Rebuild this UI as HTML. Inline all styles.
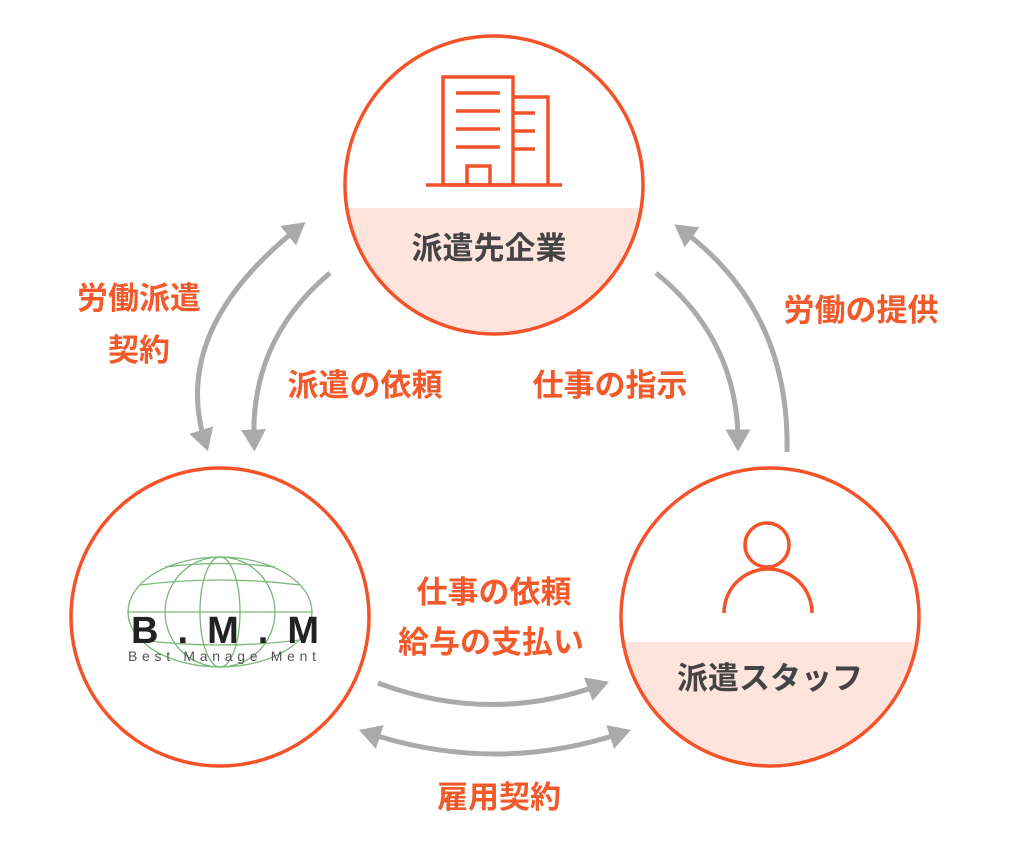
<!DOCTYPE html>
<html><head><meta charset="utf-8"><style>
body{margin:0;background:#fff;width:1024px;height:846px;overflow:hidden}
svg{display:block}
.l{font-family:"Liberation Sans","Noto Sans CJK JP",sans-serif;font-weight:bold;font-size:31px;fill:#f25a2b}
.d{font-family:"Liberation Sans","Noto Sans CJK JP",sans-serif;font-weight:bold;font-size:31px;fill:#444}
</style></head><body>
<svg width="1024" height="846" viewBox="0 0 1024 846">
<defs>
<clipPath id="c1"><circle cx="494" cy="185" r="149"/></clipPath>
<clipPath id="c3"><circle cx="770" cy="617" r="149"/></clipPath>
<marker id="a" markerWidth="4.4" markerHeight="5" refX="2.5" refY="2.5" orient="auto" markerUnits="strokeWidth"><path d="M0,0 L4.4,2.5 L0,5 z" fill="#aaa"/></marker>
<marker id="b" markerWidth="4.4" markerHeight="5" refX="2.5" refY="2.5" orient="auto-start-reverse" markerUnits="strokeWidth"><path d="M0,0 L4.4,2.5 L0,5 z" fill="#aaa"/></marker>
</defs>
<rect x="340" y="208" width="310" height="140" fill="#fee4dd" clip-path="url(#c1)"/>
<circle cx="494" cy="185" r="149" fill="none" stroke="#f4532a" stroke-width="3.5"/>
<g fill="none" stroke="#f4532a" stroke-width="3.5">
<rect x="443" y="77" width="70" height="108"/><polyline points="513,97 548,97 548,185"/>
<line x1="426" y1="185" x2="562" y2="185"/><rect x="467" y="166" width="23" height="19"/>
<line x1="456" y1="93" x2="500" y2="93"/><line x1="456" y1="111" x2="500" y2="111"/><line x1="456" y1="129" x2="500" y2="129"/><line x1="456" y1="147" x2="500" y2="147"/>
<line x1="513" y1="113" x2="535" y2="113"/><line x1="513" y1="131" x2="535" y2="131"/><line x1="513" y1="149" x2="535" y2="149"/>
</g>
<text class="d" x="489" y="259" text-anchor="middle">派遣先企業</text>
<circle cx="220" cy="617" r="149" fill="#fff" stroke="#f4532a" stroke-width="3.5"/>
<g fill="none" stroke="#5aa55a" stroke-width="1.3" opacity="0.8">
<ellipse cx="220" cy="612" rx="92" ry="55"/><ellipse cx="220" cy="612" rx="55" ry="55"/><ellipse cx="220" cy="612" rx="20" ry="55"/>
<line x1="128" y1="612" x2="312" y2="612"/><path d="M140,585 Q220,575 300,585"/><path d="M165,567 Q220,560 275,567"/><path d="M140,640 Q220,650 300,640"/>
</g>
<text x="225" y="643" text-anchor="middle" font-family="Liberation Sans,sans-serif" font-weight="bold" font-size="38" fill="#222" textLength="188" lengthAdjust="spacing">B.M.M</text>
<text x="222" y="661" text-anchor="middle" font-family="Liberation Sans,sans-serif" font-size="14" fill="#555" textLength="188">Best Manage Ment</text>
<rect x="615" y="642" width="310" height="140" fill="#fee4dd" clip-path="url(#c3)"/>
<circle cx="770" cy="617" r="149" fill="none" stroke="#f4532a" stroke-width="3.5"/>
<g fill="none" stroke="#f4532a" stroke-width="3.5">
<circle cx="767" cy="545" r="22"/><path d="M724,613 A43,43 0 0 1 812,613"/>
</g>
<text class="d" x="770" y="689" text-anchor="middle">派遣スタッフ</text>
<g fill="none" stroke="#aaa" stroke-width="5">
<path d="M298,228 Q170,330 205,442" marker-start="url(#b)" marker-end="url(#a)"/>
<path d="M330,273 Q250,340 254,442" marker-end="url(#a)"/>
<path d="M656,273 Q738,340 738,442" marker-end="url(#a)"/>
<path d="M787,452 Q790,310 682,230" marker-end="url(#a)"/>
<path d="M378,683 Q490,725 600,685" marker-end="url(#a)"/>
<path d="M368,733 Q495,775 622,733" marker-start="url(#b)" marker-end="url(#a)"/>
</g>
<text class="l" x="139" y="309" text-anchor="middle">労働派遣</text>
<text class="l" x="139" y="361" text-anchor="middle">契約</text>
<text class="l" x="365" y="396" text-anchor="middle">派遣の依頼</text>
<text class="l" x="610" y="396" text-anchor="middle">仕事の指示</text>
<text class="l" x="861" y="321" text-anchor="middle">労働の提供</text>
<text class="l" x="494" y="603" text-anchor="middle">仕事の依頼</text>
<text class="l" x="491" y="653" text-anchor="middle">給与の支払い</text>
<text class="l" x="499" y="808" text-anchor="middle">雇用契約</text>
</svg>
</body></html>
